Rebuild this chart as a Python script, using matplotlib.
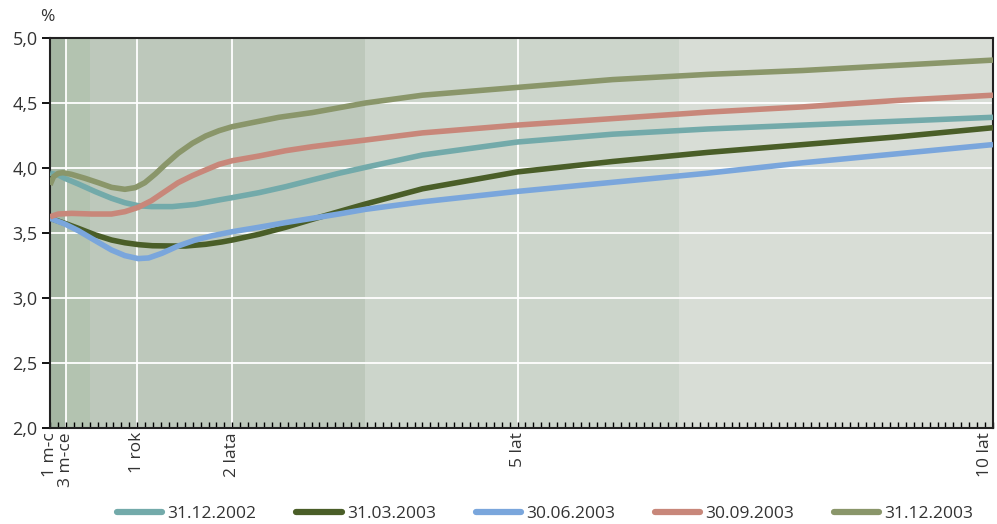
import numpy as np
import matplotlib
matplotlib.use("Agg")
import matplotlib.pyplot as plt

plt.rcParams['font.family'] = ['Open Sans', 'DejaVu Sans']

# maturities in years and yields in %
t_2002_12 = [1/12, 0.17, 0.24, 0.38, 0.56, 0.73, 0.87, 1.01, 1.15, 1.37, 1.61, 1.86, 2.0, 2.28,
             2.56, 2.84, 3.12, 3.4, 4, 5, 6, 7, 8, 9, 10]
y_2002_12 = [3.96, 3.946, 3.92, 3.877, 3.818, 3.767, 3.733, 3.71, 3.703, 3.703, 3.72, 3.754, 3.772, 3.81,
             3.856, 3.908, 3.959, 4.005, 4.10, 4.20, 4.26, 4.30, 4.33, 4.36, 4.39]

t_2003_03 = [1/12, 0.24, 0.38, 0.56, 0.73, 0.87, 1.02, 1.16, 1.37, 1.51, 1.72, 1.89, 2.0, 2.28,
             2.56, 2.84, 3.12, 3.4, 4, 5, 6, 7, 8, 9, 10]
y_2003_03 = [3.613, 3.574, 3.536, 3.485, 3.446, 3.425, 3.41, 3.402, 3.40, 3.40, 3.413, 3.431, 3.446, 3.49,
             3.544, 3.605, 3.664, 3.723, 3.84, 3.97, 4.05, 4.12, 4.18, 4.24, 4.31]

t_2003_06 = [1/12, 0.24, 0.38, 0.56, 0.73, 0.87, 1.01, 1.12, 1.26, 1.43, 1.61, 1.79, 2.0, 2.28,
             2.56, 2.84, 3.12, 3.4, 4, 5, 6, 7, 8, 9, 10]
y_2003_06 = [3.613, 3.569, 3.518, 3.441, 3.369, 3.326, 3.303, 3.308, 3.344, 3.40, 3.446, 3.479, 3.51, 3.544,
             3.58, 3.613, 3.646, 3.682, 3.74, 3.82, 3.89, 3.96, 4.04, 4.11, 4.18]

t_2003_09 = [1/12, 0.17, 0.31, 0.52, 0.73, 0.87, 1.01, 1.15, 1.29, 1.43, 1.58, 1.72, 1.86, 2.0, 2.28,
             2.56, 2.84, 3.12, 3.4, 4, 5, 6, 7, 8, 9, 10]
y_2003_09 = [3.625, 3.646, 3.651, 3.646, 3.646, 3.664, 3.697, 3.749, 3.818, 3.887, 3.941, 3.985, 4.028, 4.056, 4.092,
             4.133, 4.164, 4.19, 4.215, 4.27, 4.33, 4.38, 4.43, 4.47, 4.52, 4.56]

t_2003_12 = [1/12, 0.12, 0.17, 0.22, 0.31, 0.45, 0.59, 0.73, 0.87, 0.98, 1.08, 1.19, 1.29, 1.43, 1.58, 1.72,
             1.86, 2.0, 2.21, 2.49, 2.84, 3.4, 4, 5, 6, 7, 8, 9, 10]
y_2003_12 = [3.87, 3.933, 3.959, 3.964, 3.951, 3.921, 3.887, 3.851, 3.836, 3.849, 3.887, 3.954, 4.023, 4.113, 4.19, 4.246,
             4.287, 4.318, 4.349, 4.39, 4.426, 4.50, 4.56, 4.62, 4.68, 4.72, 4.75, 4.79, 4.83]

series = [
    ("31.12.2002", t_2002_12, y_2002_12, "#73aaaa"),
    ("31.03.2003", t_2003_03, y_2003_03, "#4a5e28"),
    ("30.06.2003", t_2003_06, y_2003_06, "#7aa6dc"),
    ("30.09.2003", t_2003_09, y_2003_09, "#c8877a"),
    ("31.12.2003", t_2003_12, y_2003_12, "#8a966a"),
]

# shaded maturity bands
band_edges = [1/12, 0.25, 0.5, 3.4, 6.7, 10]
band_colors = ["#a5b6a3", "#b3c3b0", "#bdc8bb", "#ccd5cb", "#d8ddd6"]

tick_pos = [1/12, 0.25, 1, 2, 5, 10]
tick_lab = ["1 m-c", "3 m-ce", "1 rok", "2 lata", "5 lat", "10 lat"]

fig = plt.figure(figsize=(9.97, 5.24), dpi=100)
ax = fig.add_axes([0.0502, 0.1832, 0.9458, 0.7443])

for x0, x1, c in zip(band_edges[:-1], band_edges[1:], band_colors):
    ax.axvspan(x0, x1, color=c, lw=0, zorder=0)

for v in [0.25, 1, 2, 5]:
    ax.axvline(v, color="white", lw=1.3, zorder=1)
for h in [2.5, 3.0, 3.5, 4.0, 4.5]:
    ax.axhline(h, color="white", lw=1.3, zorder=1)

for name, t, y, c in series:
    ax.plot(t, y, color=c, lw=4.0, label=name, solid_capstyle="butt",
            solid_joinstyle="round", zorder=3)

ax.set_xlim(1/12, 10)
ax.set_ylim(2.0, 5.0)

ax.set_yticks([2.0, 2.5, 3.0, 3.5, 4.0, 4.5, 5.0])
ax.set_yticklabels(["2,0", "2,5", "3,0", "3,5", "4,0", "4,5", "5,0"])
ax.tick_params(axis="y", direction="out", length=6, width=1.3, labelsize=13,
               labelcolor="#333333", pad=3)

ax.set_xticks(tick_pos)
ax.set_xticklabels(tick_lab, rotation=90, va="top", ha="center")
ax.get_xticklabels()[-1].set_ha("right")
ax.set_xticks(np.arange(1, 121) / 12, minor=True)
ax.tick_params(axis="x", which="both", direction="in", length=4, width=1.0,
               labelsize=12.5, labelcolor="#333333", pad=3)

for s in ax.spines.values():
    s.set_color("#222222")
    s.set_linewidth(1.5)

fig.text(0.047, 0.968, "%", fontsize=12.5, color="#333333", ha="center", va="center")

leg = fig.legend(loc="center", bbox_to_anchor=(0.547, 0.019), ncol=5, frameon=False,
                 fontsize=12.5, handlelength=2.6, handletextpad=0.3, columnspacing=2.3)
for line in leg.get_lines():
    line.set_linewidth(4.5)
    line.set_solid_capstyle("round")
for txt in leg.get_texts():
    txt.set_color("#333333")

fig.savefig("out.png", dpi=100)
